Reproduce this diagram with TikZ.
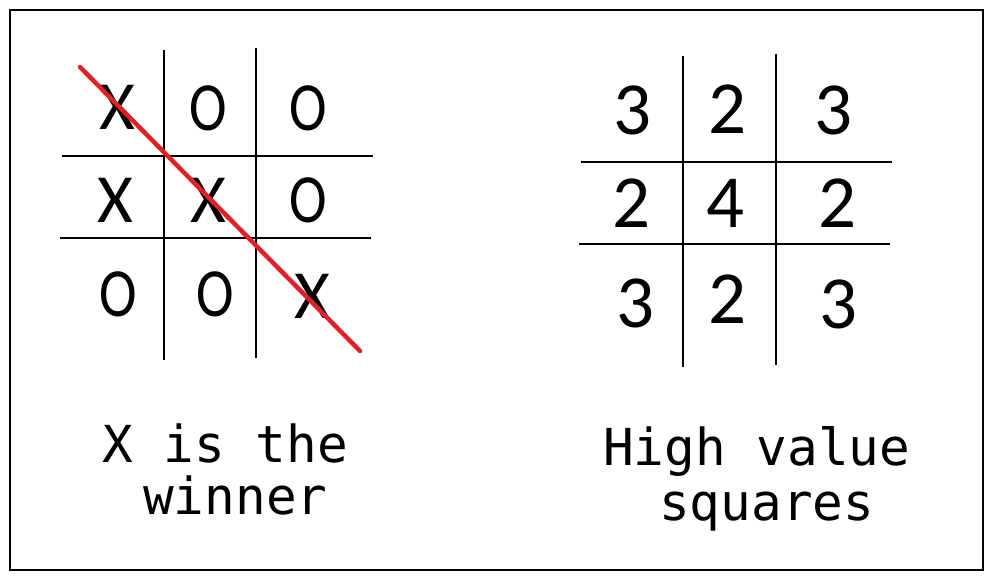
\documentclass[tikz,border=0pt]{standalone}
\usepackage{fontspec}
\setmainfont{Carlito}
\setmonofont{DejaVu Sans Mono}
\definecolor{winred}{RGB}{226,32,40}
\begin{document}
\begin{tikzpicture}[x=1pt,y=-1pt,
  gridline/.style={line width=1.3pt,black},
  cellx/.style={anchor=base,inner sep=0pt,font=\fontsize{69}{69}\selectfont},
  cello/.style={cellx,xscale=0.82},
  celld/.style={anchor=base,inner sep=0pt,font=\fontsize{75}{75}\selectfont},
  caption/.style={anchor=base west,inner sep=0pt,font=\ttfamily\fontsize{51}{51}\selectfont}]
\useasboundingbox (0,0) rectangle (992,580);
\fill[white] (0,0) rectangle (992,580);
\draw[line width=1.3pt] (10,10) rectangle (983,570);
% left grid
\draw[gridline] (164,50) -- (164,360);
\draw[gridline] (256,48) -- (256,358);
\draw[gridline] (62,156) -- (373,156);
\draw[gridline] (60,238) -- (371,238);
\node[cellx] (a11) at (117,130) {X};
\node[cello] (a12) at (208,131) {O};
\node[cello] (a13) at (308,131) {O};
\node[cellx] (a21) at (115,222) {X};
\node[cellx] (a22) at (208,222) {X};
\node[cello] (a23) at (308,222) {O};
\node[cello] (a31) at (118,316) {O};
\node[cello] (a32) at (215,316) {O};
\node[cellx] (a33) at (312,318) {X};
\coordinate (r1) at (80,67);
\coordinate (r2) at (360,351);
\draw[winred,line width=4.5pt,line cap=round] (r1) -- (r2);
% right grid
\draw[gridline] (683,56) -- (683,367);
\draw[gridline] (776,54) -- (776,365);
\draw[gridline] (581,162) -- (892,162);
\draw[gridline] (579,244) -- (890,244);
\node[celld] (b11) at (632,135) {3};
\node[celld] (b12) at (727,134) {2};
\node[celld] (b13) at (833,135) {3};
\node[celld] (b21) at (631,227) {2};
\node[celld] (b22) at (725,227) {4};
\node[celld] (b23) at (837,227) {2};
\node[celld] (b31) at (635,327) {3};
\node[celld] (b32) at (727,323) {2};
\node[celld] (b33) at (838,328) {3};
% captions
\node[caption] (c1) at (102,462) {X is the};
\node[caption] (c2) at (143,514) {winner};
\node[caption] (c3) at (603,465) {High value};
\node[caption] (c4) at (659,520) {squares};
\end{tikzpicture}
\end{document}
